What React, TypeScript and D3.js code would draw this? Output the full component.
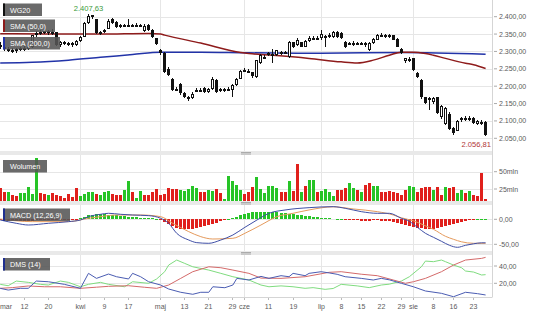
import React from 'react';
import * as d3 from 'd3';

// ---------- DATA ----------
const startDate = new Date(2019, 2, 4);
const endDate = new Date(2019, 7, 29);
const holidays = ['2019-04-19', '2019-04-22', '2019-05-01', '2019-05-03', '2019-06-20', '2019-08-15'];

const opens = [2318,2312,2306,2304,2300,2306,2309,2307,2313,2346,2354,2356,2358,2352,2355,2318,2327,2320,2324,2318,
2330,2343,2382,2400,2392,2353,2356,2366,2392,2384,2371,2375,2376,2375,2377,2376,2358,2376,2362,2338,
2305,2295,2250,2222,2190,2205,2180,2168,2167,2185,2188,2194,2182,2192,2219,2192,2190,2192,2188,2202,
2222,2246,2245,2240,2226,2268,2285,2292,2292,2290,2298,2297,2283,2326,2318,2326,2314,2331,2337,2339,
2338,2340,2345,2341,2356,2353,2327,2322,2324,2324,2323,2324,2304,2324,2334,2347,2346,2347,2346,2337,
2308,2272,2278,2280,2238,2218,2168,2164,2154,2168,2110,2092,2121,2080,2072,2102,2107,2106,2107,2092,2095,2098];
const highs = [2326,2318,2312,2310,2310,2314,2315,2318,2348,2358,2361,2363,2362,2364,2357,2330,2331,2328,2326,2334,
2345,2384,2407.63,2406,2394,2360,2366,2392,2396,2388,2380,2380,2394,2380,2381,2380,2378,2380,2364,2340,
2308,2297,2254,2224,2198,2210,2182,2172,2182,2194,2196,2198,2196,2226,2222,2196,2196,2198,2206,2225,
2248,2252,2250,2242,2276,2292,2290,2298,2308,2304,2302,2302,2330,2328,2338,2328,2334,2344,2345,2344,
2362,2348,2352,2358,2360,2355,2330,2328,2330,2328,2327,2326,2326,2340,2350,2352,2350,2350,2348,2339,
2311,2282,2284,2282,2240,2220,2170,2168,2170,2170,2146,2140,2126,2082,2104,2112,2115,2114,2110,2102,2102,2101];
const lows = [2308,2302,2298,2296,2296,2300,2302,2304,2311,2342,2348,2350,2347,2348,2315,2314,2318,2316,2312,2316,
2327,2342,2380,2392,2350,2348,2352,2365,2380,2368,2368,2370,2370,2370,2372,2371,2356,2360,2338,2318,
2290,2238,2228,2185,2186,2176,2165,2158,2162,2182,2184,2180,2180,2190,2180,2184,2184,2186,2168,2200,
2220,2240,2238,2224,2224,2265,2278,2288,2266,2288,2290,2292,2281,2310,2316,2312,2312,2328,2332,2332,
2334,2314,2340,2339,2340,2336,2310,2318,2316,2318,2318,2312,2302,2322,2332,2342,2340,2338,2332,2312,
2292,2268,2270,2244,2224,2164,2150,2132,2150,2120,2106,2088,2074,2060,2070,2098,2100,2100,2092,2088,2088,2056.81];
const closes = [2312,2306,2304,2300,2306,2309,2307,2313,2346,2354,2356,2358,2352,2355,2318,2326,2320,2324,2318,2330,
2341,2381,2403,2404,2353,2356,2362,2388,2383,2371,2375,2376,2375,2377,2376,2377,2374,2363,2341,2320,
2295,2240,2231,2188,2193,2180,2168,2167,2178,2188,2190,2183,2192,2222,2183,2187,2192,2190,2202,2222,
2245,2245,2243,2228,2274,2289,2283,2295,2290,2303,2296,2298,2327,2313,2332,2314,2331,2340,2339,2338,
2350,2344,2347,2356,2342,2339,2313,2324,2324,2323,2324,2318,2324,2337,2347,2346,2347,2344,2334,2314,
2296,2280,2274,2247,2226,2168,2153,2165,2167,2124,2144,2138,2078,2064,2101,2107,2106,2108,2095,2100,2096,2060];

const volumes = [26.9,20,21.1,16.3,15.3,18.8,18.8,27.5,17.8,70,18.8,17.4,16.3,18.8,16.3,14.5,12.5,17.4,13.5,26.9,
15.3,18,21.1,21.1,17.4,16.3,21.1,22,17.4,16.3,16.3,24,36.5,21.1,12.5,22.5,16.3,16.3,21.1,24.6,
16.3,17.4,26,25,24.6,23.6,22.5,24.6,29.8,26,21.1,21.1,23.6,22.5,24.6,18.8,10.6,44.2,36.5,30.8,
23.6,17.4,21.1,27.5,42.7,24.6,18.8,29.3,29.3,26,21.1,21.1,36.5,22.5,61,20.2,29.3,38,38,20.2,
22.5,24.6,21.1,15.3,23.6,23.6,26,34,26,23.6,21.1,30.8,33.2,29.3,29.3,20.2,21.1,22.5,21.1,18.8,
16.3,23.6,29.8,27.5,21.1,26,28,28,23.6,27.5,16.3,27.5,26,27.5,19.7,23.6,18.8,22.5,16.3,15,47.6,10.6];
const volumeDirection =
  'rrgrrgggggrrgrrrrrrr' + 'ggggrgggrrrggrggrrrr' + 'rrrrrgggggrrggrrgggg' +
  'grrrggggggrrgrrgrggr' + 'ggggrrrggrgrrggrrrrr' + 'rrggrrrrgrrgrrggrgrr' + 'rr';

const macdHist = [-1,-2,-3,-3.5,-4,-4,-3.5,-3,-2.5,-2,-2,-1.5,-1.5,-1,-1.5,-2,-2,-1.5,-1,-0.5,
2,5,8,9,10,10,10,9.5,9,8,7,6,5,4.5,4,3.5,3,2.5,2,1,
-2,-5,-9,-14,-17,-19,-19.5,-19.5,-19,-18,-16,-14,-12,-10,-7,-4,-1,1,3,5,
8,11,13,14,15,15,15.5,15.5,15,14.5,13.5,12.5,11.5,10.5,9.5,8.5,7.5,6.5,5.5,4.5,
3.5,3,2,1.5,1,0.5,-1,-1.5,-2,-2,-2.5,-2.5,-2.5,-2,-2,-2.5,-3,-4,-5,-7,
-9,-11,-13,-15,-17,-18,-19,-19,-18.5,-17,-15,-13,-11,-9,-7,-5,-3.5,-2,-1,0.5,1,1];

// [trading-day index, value] points
const sma50Pts = [[0,2351],[12,2350],[25,2350],[37,2352],[40,2350],[41,2347],[50,2324],[60,2297],[62,2294],[68,2289],[77,2280],[85,2270],[89,2267],[93,2275],[97,2289],[100,2298],[103,2298],[106,2294],[108,2289],[111,2280],[116,2266],[118,2262],[121,2251]];
const sma200Pts = [[0,2267],[8,2269],[17,2275],[25,2283],[33,2291],[40,2298],[50,2298],[62,2296],[80,2295],[100,2297],[121,2292]];
const macdPts = [[0,-1.4],[4,-8],[7,-11.4],[12,-8],[17,-4.7],[20,-1.4],[22,5.3],[25,10],[27,12],[30,10],[33,8.6],[37,7.3],[40,2],[42,-8],[44,-28],[47,-41.4],[49,-46.7],[52,-48],[55,-41.4],[58,-31.4],[61,-16],[64,-1.4],[67,12],[71,18.6],[77,23.3],[83,25.3],[86,22],[90,15.3],[94,12],[97,12],[100,2],[102,-4],[104,-16],[106,-28],[108,-36],[110,-44],[112,-52],[114,-56],[116,-52],[118,-49],[120,-47],[121,-47]];
const signalPts = [[0,0.6],[8,-4.7],[17,-4.7],[22,2],[25,5.3],[29,8.6],[35,8.6],[40,5.3],[43,-8],[47,-24.7],[50,-34.7],[53,-39.4],[58,-38],[61,-28],[65,-11.4],[69,5.3],[73,12],[77,18.7],[83,25],[88,20.7],[94,15.3],[98,8.6],[100,3],[103,-3],[106,-13],[108,-20],[111,-34],[113,-40],[115,-45],[118,-48],[121,-48]];
const dmsBluePts = [[0,14.2],[2,12.2],[5,14.2],[7,14.2],[9,22.6],[12,21.8],[16,18.8],[20,14.2],[22,31.5],[24,25.7],[27,30.7],[29,27.6],[32,25],[33,31.5],[35,27.6],[37,21.8],[40,18],[42,13.4],[45,9.6],[48,7.3],[50,9.6],[52,9.6],[53,16],[56,14.9],[58,18],[59,25.7],[62,23.8],[65,28],[67,25.7],[70,28.8],[72,27.6],[73,31.5],[76,28.8],[77,31.5],[80,33.4],[82,32],[84,30.4],[86,27.6],[90,25.7],[93,23.8],[95,25.7],[97,24],[100,20],[103,16],[106,11.1],[110,8.4],[113,4.5],[116,9.6],[119,8],[121,6.5]];
const dmsGreenPts = [[0,18.8],[2,17.2],[4,22.6],[7,21.1],[10,18.8],[12,18],[15,22.6],[17,21.1],[20,16],[22,18.8],[25,21.1],[27,18.8],[31,16],[33,21.8],[37,20],[39,25],[41,33.4],[42,41.1],[44,46.9],[46,43],[48,39.1],[52,35.3],[55,31.5],[58,27.6],[62,23.8],[65,18],[67,16],[70,17],[73,16],[76,14.2],[78,15],[81,13],[83,14],[85,18.8],[89,17],[92,15],[95,18],[97,19],[100,22.6],[102,27.6],[105,39.1],[106,45.7],[108,45],[110,46.9],[111,45],[113,41.1],[115,38],[116,34.2],[118,33],[120,29.6],[121,30]];
const dmsRedPts = [[0,14.2],[3,15],[7,16.9],[11,16],[15,16],[20,14.2],[24,15.5],[27,16.5],[32,17.2],[36,15.4],[39,14.2],[42,18],[45,25.7],[48,33.4],[52,39.1],[55,38],[58,35.3],[62,31.5],[65,26],[70,25.7],[76,27.6],[82,32.7],[85,33.4],[90,30.5],[94,28.8],[98,23.8],[101,20],[103,21.8],[106,25.7],[110,33.4],[113,41.1],[116,46.9],[120,48.8],[121,50]];

const priceTicks = [2050, 2100, 2150, 2200, 2250, 2300, 2350, 2400];
const volumeTicks = [25, 50];
const macdTicks = [0, -50];
const dmsTicks = [20, 40];
const monthStarts = ['2019-04-01', '2019-05-02', '2019-06-03', '2019-07-01', '2019-08-01'];
const dateTicks = [['2019-03-12','12'],['2019-03-20','20'],['2019-04-01','kwi'],['2019-04-09','9'],['2019-04-17','17'],['2019-05-02','maj'],['2019-05-13','13'],['2019-05-21','21'],['2019-05-29','29'],['2019-06-03','cze'],['2019-06-11','11'],['2019-06-19','19'],['2019-07-01','lip'],['2019-07-08','8'],['2019-07-15','15'],['2019-07-22','22'],['2019-07-29','29'],['2019-08-01','sie'],['2019-08-08','8'],['2019-08-16','16'],['2019-08-23','23']];
const maxLabel = '2.407,63';
const minLabel = '2.056,81';

// ---------- LAYOUT ----------
const W = 536, H = 314, PR = 492;
const P = { main: [0, 151], vol: [156, 201], macd: [205, 251], dms: [255, 297] };
const FONT = '"Liberation Sans", Arial, sans-serif';
const GREEN = '#27c427', RED = '#e0201c', GRID = '#e6e6e6', AX = '#5a5a5a';

const fmtDay = d3.timeFormat('%Y-%m-%d');
const days = d3.timeDay.range(startDate, endDate).filter(d => d.getDay() !== 0 && d.getDay() !== 6 && !holidays.includes(fmtDay(d)));
const dayKeys = days.map(fmtDay);
const idx = (s: string) => dayKeys.indexOf(s);

const x = d3.scaleLinear().domain([0, 121]).range([0.2, 485.6]);
const yMain = d3.scaleLinear().domain([2050, 2400]).range([138.3, 16.7]);
const yVol = d3.scaleLinear().domain([25, 50]).range([189, 171.7]);
const yMacd = d3.scaleLinear().domain([-50, 0]).range([244.3, 219.3]);
const yDms = d3.scaleLinear().domain([20, 40]).range([283.3, 266]);

const loc = d3.formatLocale({ decimal: ',', thousands: '.', grouping: [3], currency: ['', ''], minus: '-' });
const f2 = loc.format(',.2f');

const lineOf = (y: any, curve: any) => d3.line<number[]>().x(d => x(d[0])).y(d => y(d[1])).curve(curve);

function Label({ x0, y0, w, text, accent }: any) {
  return (
    <g>
      <rect x={x0} y={y0} width={w} height={12.5} fill="#555" opacity={0.88} />
      {accent && <rect x={x0} y={y0} width={2} height={12.5} fill={accent} />}
      <text x={x0 + 7} y={y0 + 9} fontSize={7.2} fill="#fff" fontFamily={FONT}>{text}</text>
    </g>
  );
}

function Separator({ y }: any) {
  return (
    <g>
      <rect x={0} y={y} width={PR} height={4} fill="#e9e9e9" />
      <line x1={241} x2={251} y1={y + 1.5} y2={y + 1.5} stroke="#9a9a9a" strokeWidth={0.8} />
      <line x1={241} x2={251} y1={y + 3} y2={y + 3} stroke="#9a9a9a" strokeWidth={0.8} />
    </g>
  );
}

export default function App() {
  const n = opens.length;
  const cx = (i: number) => Math.floor(x(i));
  const clip = (name: string, r: number[]) => (
    <clipPath id={name}><rect x={0} y={r[0]} width={PR} height={r[1] - r[0]} /></clipPath>
  );
  const axisText = (y: number, t: string, key: any) => (
    <g key={key}>
      <line x1={494} x2={497} y1={y} y2={y} stroke="#aaa" />
      <text x={499} y={y + 2.5} fontSize={7} fill={AX} fontFamily={FONT}>{t}</text>
    </g>
  );
  const hGrid = (y: number, key: any) => <line key={key} x1={0} x2={PR} y1={Math.round(y) + 0.5} y2={Math.round(y) + 0.5} stroke={GRID} />;

  const maxI = highs.indexOf(d3.max(highs) as number);
  const lastI = n - 1;

  return (
    <svg width={W} height={H} style={{ position: 'absolute', left: 0, top: 0, background: '#fff' }}>
      <defs>
        {clip('cMain', P.main)}
        {clip('cVol', P.vol)}
        {clip('cMacd', P.macd)}
        {clip('cDms', P.dms)}
      </defs>
      <rect x={0} y={0} width={W} height={H} fill="#fff" />
      {/* grids */}
      {priceTicks.map((t, k) => hGrid(yMain(t), 'pg' + k))}
      {volumeTicks.map((t, k) => hGrid(yVol(t), 'vg' + k))}
      {macdTicks.map((t, k) => hGrid(yMacd(t), 'mg' + k))}
      {dmsTicks.map((t, k) => hGrid(yDms(t), 'dg' + k))}
      {monthStarts.map((s, k) => (
        <line key={'vl' + k} x1={cx(idx(s)) + 0.5} x2={cx(idx(s)) + 0.5} y1={0} y2={297} stroke={GRID} />
      ))}

      {/* main panel */}
      <g clipPath="url(#cMain)">
        <path d={lineOf(yMain, d3.curveMonotoneX)(sma200Pts) || ''} fill="none" stroke="#2233a8" strokeWidth={1.5} />
        <path d={lineOf(yMain, d3.curveMonotoneX)(sma50Pts) || ''} fill="none" stroke="#8e1b1b" strokeWidth={1.5} />
        <g shapeRendering="crispEdges">
          {opens.map((o, i) => {
            const c = closes[i];
            const px = cx(i);
            const top = Math.round(yMain(Math.max(o, c)));
            const bot = Math.round(yMain(Math.min(o, c)));
            const up = c >= o;
            return (
              <g key={i}>
                <line x1={px + 0.5} x2={px + 0.5} y1={yMain(highs[i])} y2={yMain(lows[i])} stroke="#111" />
                <rect x={px - 0.5} y={top + 0.5} width={2} height={Math.max(bot - top - 1, 0.5)} fill={up ? '#fff' : '#111'} stroke="#111" />
              </g>
            );
          })}
        </g>
      </g>
      <text x={x(maxI)} y={11} textAnchor="middle" fontSize={7.6} fill="#3a9a3a" fontFamily={FONT}>{maxLabel}</text>
      <text x={491} y={146.5} textAnchor="end" fontSize={7.6} fill="#b03535" fontFamily={FONT}>{minLabel}</text>

      {/* volume */}
      <g clipPath="url(#cVol)" shapeRendering="crispEdges">
        {volumes.map((v, i) => (
          <rect key={i} x={cx(i) - 1} y={yVol(v)} width={3} height={Math.max(0, 201 - yVol(v))} fill={volumeDirection[i] === 'g' ? GREEN : RED} />
        ))}
      </g>

      {/* macd */}
      <g clipPath="url(#cMacd)">
        <g shapeRendering="crispEdges">
          {macdHist.map((v, i) => (
            <rect key={i} x={cx(i) - 1} y={Math.min(yMacd(v), yMacd(0))} width={3} height={Math.max(0.8, Math.abs(yMacd(v) - yMacd(0)))} fill={v >= 0 ? GREEN : RED} />
          ))}
        </g>
        <path d={lineOf(yMacd, d3.curveMonotoneX)(signalPts) || ''} fill="none" stroke="#e59a5c" strokeWidth={1} />
        <path d={lineOf(yMacd, d3.curveMonotoneX)(macdPts) || ''} fill="none" stroke="#3f4fa6" strokeWidth={1} />
      </g>

      {/* dms */}
      <g clipPath="url(#cDms)">
        <path d={lineOf(yDms, d3.curveLinear)(dmsGreenPts) || ''} fill="none" stroke="#7fdc7f" strokeWidth={1} />
        <path d={lineOf(yDms, d3.curveLinear)(dmsRedPts) || ''} fill="none" stroke="#d46a6a" strokeWidth={1} />
        <path d={lineOf(yDms, d3.curveLinear)(dmsBluePts) || ''} fill="none" stroke="#4a5cb2" strokeWidth={1} />
      </g>

      {/* separators and borders */}
      <Separator y={151} />
      <Separator y={201} />
      <Separator y={251} />
      <line x1={0} x2={PR} y1={297.5} y2={297.5} stroke="#d5d5d5" />
      <line x1={PR + 0.5} x2={PR + 0.5} y1={0} y2={297.5} stroke="#d5d5d5" />

      {/* legend boxes */}
      <Label x0={3} y0={3.5} w={39} text="WG20" accent="#111" />
      <Label x0={3} y0={19.5} w={52} text="SMA (50,0)" accent="#8e1b1b" />
      <Label x0={3} y0={37} w={57} text="SMA (200,0)" accent="#2233a8" />
      <Label x0={3} y0={160} w={44} text="Wolumen" />
      <Label x0={3} y0={208.5} w={67} text="MACD (12,26,9)" accent="#1f2f8f" />
      <Label x0={3} y0={258} w={47} text="DMS (14)" accent="#1f2f8f" />

      {/* right axes */}
      {priceTicks.map((t, k) => axisText(yMain(t), f2(t), 'pt' + k))}
      {volumeTicks.map((t, k) => axisText(yVol(t), t + 'mln', 'vt' + k))}
      {macdTicks.map((t, k) => axisText(yMacd(t), f2(t), 'mt' + k))}
      {dmsTicks.map((t, k) => axisText(yDms(t), f2(t), 'dt' + k))}

      {/* bottom axis */}
      <text x={0} y={309} fontSize={7} fill={AX} fontFamily={FONT}>mar</text>
      {dateTicks.map(([s, t], k) => {
        const px = cx(idx(s)) + 0.5;
        return (
          <g key={'bt' + k}>
            <line x1={px} x2={px} y1={298} y2={300} stroke="#bbb" />
            <text x={px} y={309} textAnchor="middle" fontSize={7} fill={AX} fontFamily={FONT}>{t}</text>
          </g>
        );
      })}
    </svg>
  );
}
